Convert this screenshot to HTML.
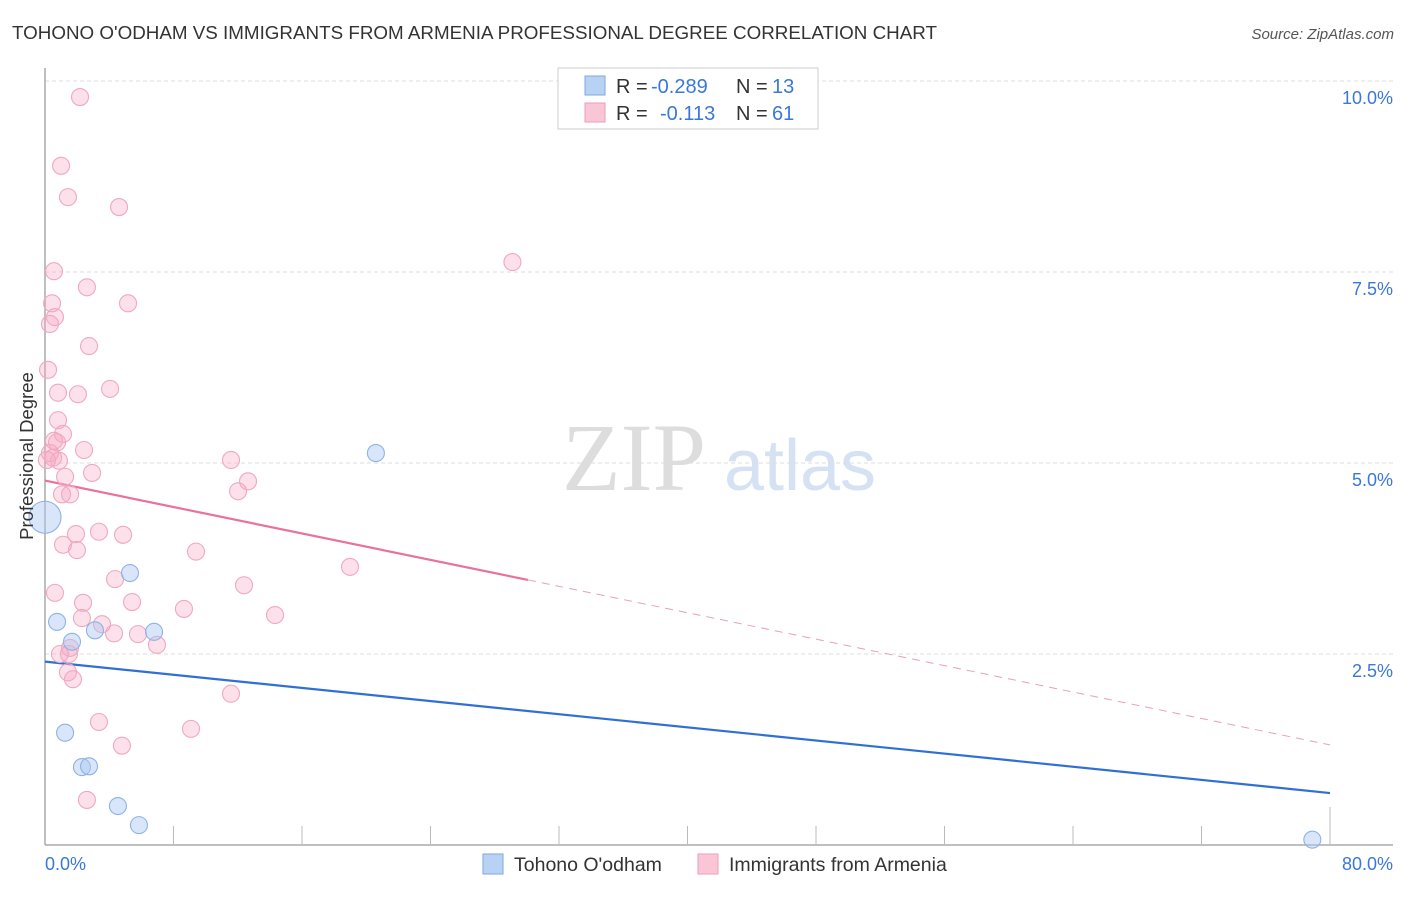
<!DOCTYPE html>
<html><head><meta charset="utf-8"><style>
body{margin:0;background:#fff;font-family:"Liberation Sans",sans-serif}
</style></head><body>
<svg width="1406" height="892" xmlns="http://www.w3.org/2000/svg" font-family="Liberation Sans, sans-serif">
<text x="12" y="39" font-size="18" fill="#333" textLength="925" lengthAdjust="spacingAndGlyphs">TOHONO O'ODHAM VS IMMIGRANTS FROM ARMENIA PROFESSIONAL DEGREE CORRELATION CHART</text>
<text x="1394" y="39" font-size="15" fill="#555" font-style="italic" text-anchor="end">Source: ZipAtlas.com</text>
<g>
<text x="634" y="490" font-size="96" fill="#ddd" font-family="Liberation Serif, serif" text-anchor="middle">ZIP</text>
<text x="800" y="490" font-size="72" fill="#d5e2f3" text-anchor="middle">atlas</text>
</g>
<g id="grid"></g>
<g id="axes"></g>
<g id="lines"></g>
<g id="pts"></g>
<text transform="translate(33,456) rotate(-90)" font-size="18.5" fill="#333" text-anchor="middle">Professional Degree</text>
<g>
<rect x="558" y="68" width="260" height="61" fill="#fff" stroke="#ccc"/>
<rect x="585" y="76" width="20" height="19" fill="#b8d2f4" stroke="#7fa7e0"/>
<rect x="585" y="103" width="20" height="19" fill="#f9c6d6" stroke="#ee9bb5"/>
<g font-size="20" fill="#333">
<text x="616" y="93">R =</text><text x="651" y="93" fill="#3a78d8">-0.289</text><text x="736" y="93">N =</text><text x="772" y="93" fill="#3a78d8">13</text>
<text x="616" y="120">R =</text><text x="660" y="120" fill="#3a78d8">-0.113</text><text x="736" y="120">N =</text><text x="772" y="120" fill="#3a78d8">61</text>
</g>
</g>
<g>
<rect x="483" y="854" width="20" height="20" fill="#b8d2f4" stroke="#7fa7e0"/>
<text x="514" y="871" font-size="19.5" fill="#333">Tohono O'odham</text>
<rect x="698" y="854" width="20" height="20" fill="#f9c6d6" stroke="#ee9bb5"/>
<text x="729" y="871" font-size="19.5" fill="#333">Immigrants from Armenia</text>
</g>
</svg>
<script>
const yTicks=[2.5,5.0,7.5,10.0];
const yTickLabels=["2.5%","5.0%","7.5%","10.0%"];
const xTickLabels=["0.0%","80.0%"];
const blueX=[0,0.75,1.68,3.11,5.29,6.79,20.6,1.25,2.30,2.74,4.54,5.85,78.9];
const blueY=[4.29,2.92,2.66,2.81,3.56,2.79,5.13,1.47,1.02,1.03,0.51,0.26,0.07];
const pinkX=[2.18,1.0,1.43,4.61,29.1,0.56,2.61,0.44,5.17,0.62,0.31,2.74,0.19,0.81,2.05,4.05,0.81,1.12,0.56,0.75,2.43,0.31,0.5,0.87,11.58,2.93,1.25,12.64,12.02,1.06,1.56,3.36,1.93,4.86,1.12,1.99,9.4,18.99,4.36,12.39,0.62,2.37,5.42,8.65,2.30,3.55,14.32,4.30,5.79,6.97,1.56,1.49,0.93,1.43,1.74,11.58,3.36,9.09,4.79,2.61,0.12];
const pinkY=[9.79,8.89,8.48,8.35,7.63,7.51,7.30,7.09,7.09,6.91,6.82,6.53,6.22,5.92,5.90,5.97,5.56,5.38,5.29,5.27,5.17,5.13,5.07,5.03,5.04,4.87,4.82,4.76,4.63,4.59,4.59,4.10,4.07,4.06,3.93,3.86,3.84,3.64,3.48,3.40,3.30,3.17,3.18,3.09,2.97,2.89,3.01,2.77,2.76,2.62,2.58,2.50,2.50,2.26,2.17,1.98,1.61,1.52,1.30,0.59,5.04];
const blueTrend=[2.40,0.68];
const pinkTrend=[4.77,1.31];
const pinkSolidEnd=30.07;
const NS="http://www.w3.org/2000/svg";
const sx=v=>45+v/80*1285, sy=v=>845-v*76.4;
function mk(tag,attrs,parent){const e=document.createElementNS(NS,tag);for(const k in attrs)e.setAttribute(k,attrs[k]);document.getElementById(parent).appendChild(e);return e;}
yTicks.forEach((t,i)=>{
 const g=mk('line',{x1:45,x2:1393,y1:sy(t),y2:sy(t),stroke:'#ddd','stroke-dasharray':'4,3'},'grid');
 
 
 const l=mk('text',{x:1393,y:sy(t)+23,'font-size':18,fill:'#3a78d8','text-anchor':'end'},'grid');
 l.textContent=yTickLabels[i];
 
 
});
const ax=mk('line',{x1:45,x2:45,y1:68,y2:845,stroke:'#aaa','stroke-width':1.5},'axes');


const bx=mk('line',{x1:45,x2:1393,y1:845,y2:845,stroke:'#aaa','stroke-width':1.5},'axes');


for(let i=1;i<=10;i++){const t=mk('line',{x1:sx(i*8),x2:sx(i*8),y1:i==10?807:826,y2:845,stroke:'#bbb'},'axes');
 
 }
[[0,'start'],[80,'end']].forEach((p,i)=>{const t=mk('text',{x:i?1393:45,y:870,'font-size':18,fill:'#3a78d8','text-anchor':p[1]},'axes');t.textContent=xTickLabels[i];
 
 });
const interp=(tr,x)=>tr[0]+(tr[1]-tr[0])*x/80;
const bl=mk('line',{x1:sx(0),y1:sy(blueTrend[0]),x2:sx(80),y2:sy(blueTrend[1]),stroke:'#2f6fd6','stroke-width':2.2},'lines');


const pl=mk('line',{x1:sx(0),y1:sy(pinkTrend[0]),x2:sx(pinkSolidEnd),y2:sy(interp(pinkTrend,pinkSolidEnd)),stroke:'#e8729a','stroke-width':2.2},'lines');


const pd=mk('line',{x1:sx(pinkSolidEnd),y1:sy(interp(pinkTrend,pinkSolidEnd)),x2:sx(80),y2:sy(pinkTrend[1]),stroke:'#e8a0b8','stroke-width':1,'stroke-dasharray':'8,6'},'lines');


pinkX.forEach((x,i)=>{const c=mk('circle',{cx:sx(x),cy:sy(pinkY[i]),r:8.5,fill:'rgba(246,170,196,0.35)',stroke:'#f0a8c0','stroke-width':1.1},'pts');
 
 });
blueX.forEach((x,i)=>{const c=mk('circle',{cx:sx(x),cy:sy(blueY[i]),r:i==0?16:8.5,fill:'rgba(170,200,242,0.45)',stroke:'#8fb2e6','stroke-width':1.1},'pts');
 
 });
</script>
</body></html>
